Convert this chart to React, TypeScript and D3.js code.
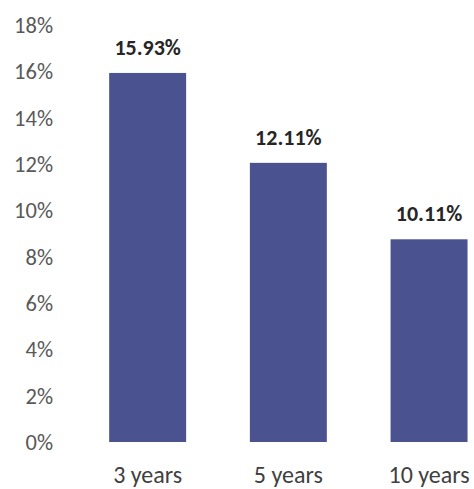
import React from "react";
import * as d3 from "d3";

const categories = ["3 years", "5 years", "10 years"];
const barValues = [15.93, 12.05, 8.75];
const barLabels = ["15.93%", "12.11%", "10.11%"];
const yTicks = [0, 2, 4, 6, 8, 10, 12, 14, 16, 18];

const W = 474;
const H = 489;
const FONT = "Carlito, Lato, 'Liberation Sans', sans-serif";

export default function App() {
  const y = d3.scaleLinear().domain([0, 18]).range([442, 25]);
  const x = d3
    .scaleBand<string>()
    .domain(categories)
    .range([77.3, 499.4])
    .paddingInner(0.453)
    .paddingOuter(0.2265);

  return (
    <svg
      width={W}
      height={H}
      style={{ position: "absolute", left: 0, top: 0, background: "#fff" }}
    >
      {yTicks.map((t) => (
        <text
          key={t}
          x={53}
          y={y(t)}
          dy="0.35em"
          textAnchor="end"
          fontFamily={FONT}
          fontSize={22.5}
          fill="#595959"
        >
          {t}%
        </text>
      ))}
      {categories.map((c, i) => {
        const bx = x(c)!;
        const bw = x.bandwidth();
        return (
          <g key={c}>
            <rect
              x={bx}
              y={y(barValues[i])}
              width={bw}
              height={y(0) - y(barValues[i])}
              fill="#4b5290"
            />
            <text
              x={bx + bw / 2}
              y={y(barValues[i]) - 18}
              textAnchor="middle"
              fontFamily={FONT}
              fontSize={22}
              fontWeight="bold"
              fill="#262626"
            >
              {barLabels[i]}
            </text>
            <text
              x={bx + bw / 2}
              y={483}
              textAnchor="middle"
              fontFamily={FONT}
              fontSize={24}
              fill="#404040"
            >
              {c}
            </text>
          </g>
        );
      })}
    </svg>
  );
}
